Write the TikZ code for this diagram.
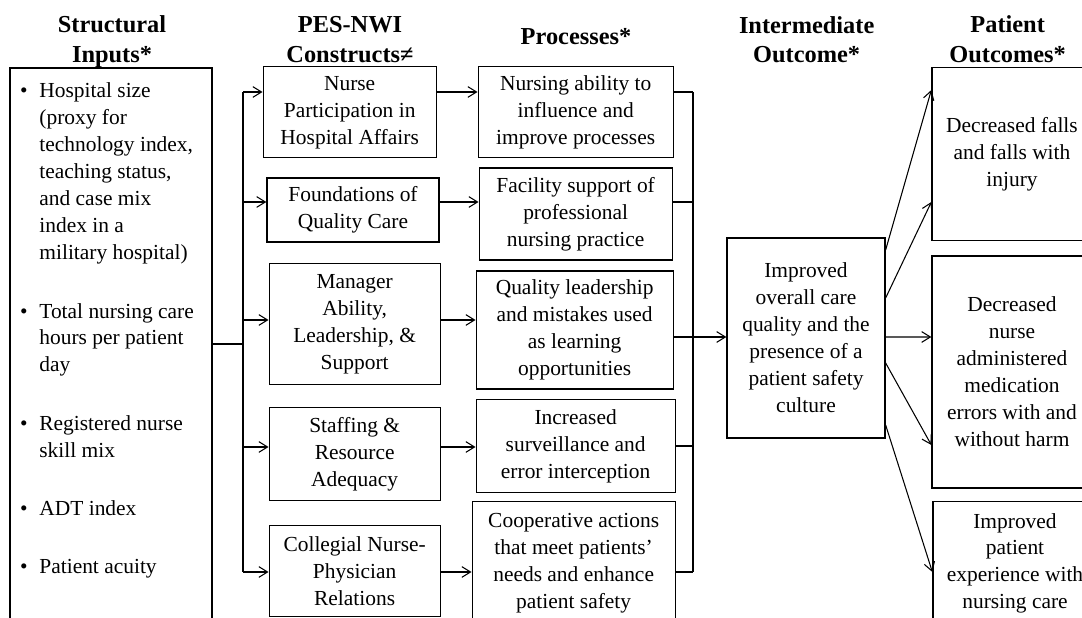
\documentclass[tikz,border=0pt]{standalone}
\usepackage{fontspec}
\setmainfont{Liberation Serif}
\usetikzlibrary{arrows.meta}

\begin{document}
\begin{tikzpicture}[
  every node/.style={font=\fontsize{18.3}{23}\selectfont, align=center},
  hdr/.style={font=\fontsize{20.8}{25.5}\selectfont\bfseries},
  box/.style={draw, line width=1.1pt, inner sep=2pt},
  arr/.style={-{Straight Barb[length=2.6mm, width=3.2mm]}, line width=0.9pt},
  ln/.style={line width=0.9pt},
]
  \useasboundingbox (0, 0) rectangle (32.46, 18.54);

  % column heads
  \node[hdr] (hin)  at (3.36, 17.28) {Structural\\Inputs*};
  \node[hdr] (hcon) at (10.5, 17.34) {PES-NWI\\Constructs≠};
  \node[hdr] (hpro) at (17.28, 17.43) {Processes*};
  \node[hdr] (hmid) at (24.2, 17.35) {Intermediate\\Outcome*};
  \node[hdr] (hout) at (30.23, 17.37) {Patient\\Outcomes*};

  % structural inputs
  \node[box, minimum width=6.06cm, minimum height=17.16cm] (inputs) at (3.33, 7.92) {};
  \node[anchor=base west, inner sep=0pt, align=left] (inlist) at (0.6, 15.6) {%
    \begin{tabular}[t]{@{}l@{\hspace{0.35cm}}l@{}}
      \textbullet & Hospital size\\
                  & (proxy for\\
                  & technology index,\\
                  & teaching status,\\
                  & and case mix\\
                  & index in a\\
                  & military hospital)\\[26.8pt]
      \textbullet & Total nursing care\\
                  & hours per patient\\
                  & day\\[26.8pt]
      \textbullet & Registered nurse\\
                  & skill mix\\[26.8pt]
      \textbullet & ADT index\\[26.8pt]
      \textbullet & Patient acuity
    \end{tabular}};

  % PES-NWI constructs
  \node[box, minimum width=5.19cm, minimum height=2.73cm] (c1) at (10.49, 15.17) {Nurse\\Participation in\\Hospital Affairs};
  \node[box, minimum width=5.16cm, minimum height=1.92cm] (c2) at (10.59, 12.24) {Foundations of\\Quality Care};
  \node[box, minimum width=5.13cm, minimum height=3.63cm] (c3) at (10.64, 8.81) {Manager\\Ability,\\Leadership, \&\\Support};
  \node[box, minimum width=5.13cm, minimum height=2.79cm] (c4) at (10.64, 4.91) {Staffing \&\\Resource\\Adequacy};
  \node[box, minimum width=5.13cm, minimum height=2.73cm] (c5) at (10.64, 1.40) {Collegial Nurse-\\Physician\\Relations};

  % processes
  \node[box, minimum width=5.85cm, minimum height=2.73cm] (p1) at (17.27, 15.17) {Nursing ability to\\influence and\\improve processes};
  \node[box, minimum width=5.79cm, minimum height=2.76cm] (p2) at (17.27, 12.12) {Facility support of\\professional\\nursing practice};
  \node[box, minimum width=5.91cm, minimum height=3.54cm] (p3) at (17.24, 8.64) {Quality leadership\\and mistakes used\\as learning\\opportunities};
  \node[box, minimum width=5.97cm, minimum height=2.79cm] (p4) at (17.27, 5.15) {Increased\\surveillance and\\error interception};
  \node[box, minimum width=6.09cm, minimum height=3.69cm] (p5) at (17.21, 1.64) {Cooperative actions\\that meet patients’\\needs and enhance\\patient safety};

  % intermediate outcome
  \node[box, minimum width=4.74cm, minimum height=6.0cm] (mid) at (24.18, 8.4) {Improved\\overall care\\quality and the\\presence of a\\patient safety\\culture};

  % patient outcomes
  \node[box, minimum width=4.8cm, minimum height=5.19cm] (o1) at (30.36, 13.91) {Decreased falls\\and falls with\\injury};
  \node[box, minimum width=4.8cm, minimum height=6.96cm] (o2) at (30.36, 7.38) {Decreased\\nurse\\administered\\medication\\errors with and\\without harm};
  \node[box, minimum width=4.92cm, minimum height=3.69cm] (o3) at (30.45, 1.64) {Improved\\patient\\experience with\\nursing care};

  % left bus
  \coordinate (lb) at (7.29, 8.22);
  \coordinate (l1) at (7.29, 15.78);
  \coordinate (l2) at (7.29, 12.48);
  \coordinate (l3) at (7.29, 8.94);
  \coordinate (l4) at (7.29, 5.13);
  \coordinate (l5) at (7.29, 1.38);
  \draw[ln] (inputs.east |- lb) -- (lb);
  \draw[ln] (l1) -- (l5);
  \foreach \i in {1,...,5} {
    \draw[arr] (l\i) -- (l\i -| c\i.west);
    \draw[arr] (c\i.east |- l\i) -- (l\i -| p\i.west);
  }

  % right bus
  \coordinate (r1) at (20.79, 15.78);
  \coordinate (r2) at (20.79, 12.48);
  \coordinate (r3) at (20.79, 8.43);
  \coordinate (r4) at (20.79, 5.16);
  \coordinate (r5) at (20.79, 1.38);
  \foreach \i in {1,2,4,5}
    \draw[ln] (p\i.east |- r\i) -- (r\i);
  \draw[ln] (r1) -- (r5);
  \draw[arr] (p3.east |- r3) -- (r3 -| mid.west);

  % to patient outcomes
  \draw[arr] ([yshift=2.64cm]mid.east) -- ([yshift=1.93cm]o1.west);
  \draw[arr] ([yshift=1.2cm]mid.east) -- ([yshift=-1.43cm]o1.west);
  \draw[arr] ([yshift=0.03cm]mid.east) -- ([yshift=1.05cm]o2.west);
  \draw[arr] ([yshift=-0.75cm]mid.east) -- ([yshift=-2.19cm]o2.west);
  \draw[arr] ([yshift=-2.61cm]mid.east) -- ([yshift=-0.26cm]o3.west);
\end{tikzpicture}
\end{document}
